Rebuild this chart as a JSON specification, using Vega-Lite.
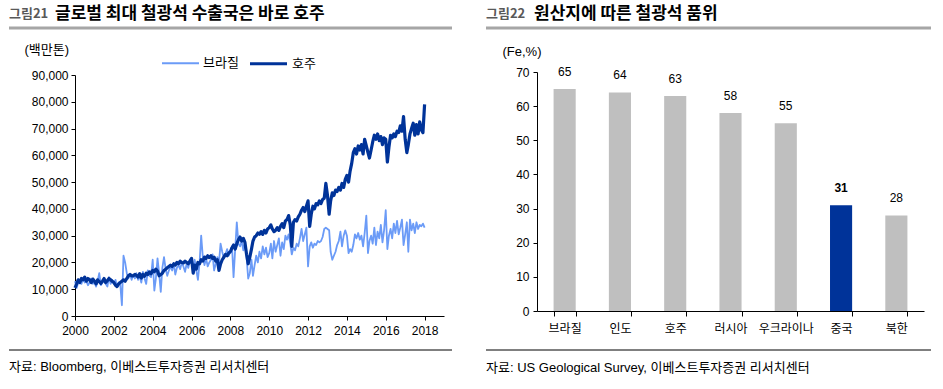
{
  "$schema": "https://vega.github.io/schema/vega-lite/v6.json",
  "padding": {"left": 7, "top": 5, "right": 0, "bottom": 0},
  "background": "white",
  "spacing": 30,
  "resolve": {"scale": {"color": "independent", "strokeWidth": "independent", "x": "independent", "y": "independent"}, "legend": {"color": "independent", "strokeWidth": "independent"}},
  "config": {
    "font": "Liberation Sans, Noto Sans CJK KR",
    "view": {"stroke": null},
    "axis": {"labelFont": "Liberation Sans, Noto Sans CJK KR", "labelColor": "#000", "labelFontSize": 12, "domainColor": "#000", "tickColor": "#000", "grid": false, "titleFont": "Liberation Sans, Noto Sans CJK KR", "titleColor": "#000", "titleFontWeight": "normal", "titleFontSize": 13},
    "text": {"font": "Liberation Sans, Noto Sans CJK KR"}
  },
  "datasets": {
    "lines": [
      {"m":"2000-01","브라질":13000,"호주":10500},{"m":"2000-02","브라질":10500,"호주":12000},{"m":"2000-03","브라질":12500,"호주":13500},{"m":"2000-04","브라질":13500,"호주":12500},{"m":"2000-05","브라질":12000,"호주":14000},{"m":"2000-06","브라질":14000,"호주":13500},{"m":"2000-07","브라질":12500,"호주":14500},{"m":"2000-08","브라질":13000,"호주":13000},{"m":"2000-09","브라질":11500,"호주":14000},{"m":"2000-10","브라질":12500,"호주":13500},{"m":"2000-11","브라질":14000,"호주":12500},{"m":"2000-12","브라질":12000,"호주":13800},
      {"m":"2001-01","브라질":12500,"호주":13000},{"m":"2001-02","브라질":11000,"호주":12000},{"m":"2001-03","브라질":13000,"호주":13500},{"m":"2001-04","브라질":16000,"호주":12800},{"m":"2001-05","브라질":11500,"호주":12200},{"m":"2001-06","브라질":12500,"호주":13000},{"m":"2001-07","브라질":13500,"호주":14000},{"m":"2001-08","브라질":12000,"호주":12500},{"m":"2001-09","브라질":11000,"호주":13200},{"m":"2001-10","브라질":14500,"호주":14000},{"m":"2001-11","브라질":12000,"호주":13500},{"m":"2001-12","브라질":13500,"호주":13000},
      {"m":"2002-01","브라질":12000,"호주":12500},{"m":"2002-02","브라질":13500,"호주":11500},{"m":"2002-03","브라질":11000,"호주":11000},{"m":"2002-04","브라질":12500,"호주":12000},{"m":"2002-05","브라질":12000,"호주":12500},{"m":"2002-06","브라질":4000,"호주":13000},{"m":"2002-07","브라질":22500,"호주":13500},{"m":"2002-08","브라질":20000,"호주":13000},{"m":"2002-09","브라질":16000,"호주":14000},{"m":"2002-10","브라질":14000,"호주":15000},{"m":"2002-11","브라질":15500,"호주":15500},{"m":"2002-12","브라질":13500,"호주":15000},
      {"m":"2003-01","브라질":15500,"호주":15000},{"m":"2003-02","브라질":14000,"호주":15500},{"m":"2003-03","브라질":16000,"호주":15200},{"m":"2003-04","브라질":13500,"호주":14500},{"m":"2003-05","브라질":15000,"호주":15800},{"m":"2003-06","브라질":12500,"호주":14200},{"m":"2003-07","브라질":16500,"호주":15500},{"m":"2003-08","브라질":14000,"호주":14800},{"m":"2003-09","브라질":12000,"호주":16000},{"m":"2003-10","브라질":17000,"호주":15500},{"m":"2003-11","브라질":15000,"호주":16500},{"m":"2003-12","브라질":14500,"호주":15800},
      {"m":"2004-01","브라질":21000,"호주":17000},{"m":"2004-02","브라질":9500,"호주":16500},{"m":"2004-03","브라질":14000,"호주":17500},{"m":"2004-04","브라질":21500,"호주":16800},{"m":"2004-05","브라질":16000,"호주":15000},{"m":"2004-06","브라질":9000,"호주":15500},{"m":"2004-07","브라질":18000,"호주":16000},{"m":"2004-08","브라질":22000,"호주":17000},{"m":"2004-09","브라질":17500,"호주":17500},{"m":"2004-10","브라질":15000,"호주":18000},{"m":"2004-11","브라질":17000,"호주":18500},{"m":"2004-12","브라질":18500,"호주":19000},
      {"m":"2005-01","브라질":17000,"호주":18500},{"m":"2005-02","브라질":19500,"호주":19500},{"m":"2005-03","브라질":15500,"호주":19000},{"m":"2005-04","브라질":18000,"호주":20000},{"m":"2005-05","브라질":19000,"호주":19500},{"m":"2005-06","브라질":17500,"호주":20500},{"m":"2005-07","브라질":20000,"호주":20000},{"m":"2005-08","브라질":18500,"호주":19800},{"m":"2005-09","브라질":16500,"호주":20500},{"m":"2005-10","브라질":19500,"호주":20000},{"m":"2005-11","브라질":18000,"호주":19500},{"m":"2005-12","브라질":20500,"호주":20500},
      {"m":"2006-01","브라질":19500,"호주":21500},{"m":"2006-02","브라질":18000,"호주":16000},{"m":"2006-03","브라질":21000,"호주":19000},{"m":"2006-04","브라질":17000,"호주":17500},{"m":"2006-05","브라질":13500,"호주":20000},{"m":"2006-06","브라질":20000,"호주":19500},{"m":"2006-07","브라질":30000,"호주":21000},{"m":"2006-08","브라질":22000,"호주":20500},{"m":"2006-09","브라질":19000,"호주":22000},{"m":"2006-10","브라질":21500,"호주":21500},{"m":"2006-11","브라질":18500,"호주":22500},{"m":"2006-12","브라질":20000,"호주":21800},
      {"m":"2007-01","브라질":21000,"호주":22500},{"m":"2007-02","브라질":23000,"호주":21500},{"m":"2007-03","브라질":17000,"호주":22000},{"m":"2007-04","브라질":19500,"호주":20500},{"m":"2007-05","브라질":22000,"호주":21000},{"m":"2007-06","브라질":20000,"호주":17000},{"m":"2007-07","브라질":27000,"호주":19500},{"m":"2007-08","브라질":24000,"호주":21000},{"m":"2007-09","브라질":21500,"호주":22000},{"m":"2007-10","브라질":23000,"호주":23000},{"m":"2007-11","브라질":25000,"호주":22500},{"m":"2007-12","브라질":22500,"호주":23500},
      {"m":"2008-01","브라질":24000,"호주":24000},{"m":"2008-02","브라질":26000,"호주":25500},{"m":"2008-03","브라질":14500,"호주":26500},{"m":"2008-04","브라질":25000,"호주":25000},{"m":"2008-05","브라질":35000,"호주":27000},{"m":"2008-06","브라질":27000,"호주":28500},{"m":"2008-07","브라질":26000,"호주":29500},{"m":"2008-08","브라질":28000,"호주":28000},{"m":"2008-09","브라질":24500,"호주":29000},{"m":"2008-10","브라질":27500,"호주":27500},{"m":"2008-11","브라질":22000,"호주":23000},{"m":"2008-12","브라질":14000,"호주":19500},
      {"m":"2009-01","브라질":16000,"호주":22000},{"m":"2009-02","브라질":21000,"호주":25000},{"m":"2009-03","브라질":15000,"호주":28000},{"m":"2009-04","브라질":19000,"호주":29500},{"m":"2009-05","브라질":22500,"호주":30000},{"m":"2009-06","브라질":20000,"호주":31000},{"m":"2009-07","브라질":24000,"호주":30500},{"m":"2009-08","브라질":21500,"호주":31500},{"m":"2009-09","브라질":26000,"호주":30500},{"m":"2009-10","브라질":23000,"호주":32000},{"m":"2009-11","브라질":25500,"호주":31000},{"m":"2009-12","브라질":22000,"호주":32500},
      {"m":"2010-01","브라질":23500,"호주":33000},{"m":"2010-02","브라질":27000,"호주":34000},{"m":"2010-03","브라질":21500,"호주":32500},{"m":"2010-04","브라질":28000,"호주":31500},{"m":"2010-05","브라질":24000,"호주":32000},{"m":"2010-06","브라질":26500,"호주":33000},{"m":"2010-07","브라질":29000,"호주":32000},{"m":"2010-08","브라질":22500,"호주":33500},{"m":"2010-09","브라질":27500,"호주":34500},{"m":"2010-10","브라질":25000,"호주":33000},{"m":"2010-11","브라질":30000,"호주":35500},{"m":"2010-12","브라질":28500,"호주":36000},
      {"m":"2011-01","브라질":30500,"호주":37500},{"m":"2011-02","브라질":27000,"호주":34000},{"m":"2011-03","브라질":23000,"호주":26000},{"m":"2011-04","브라질":25500,"호주":35000},{"m":"2011-05","브라질":24500,"호주":36000},{"m":"2011-06","브라질":27000,"호주":35500},{"m":"2011-07","브라질":26000,"호주":37000},{"m":"2011-08","브라질":29000,"호주":38000},{"m":"2011-09","브라질":32500,"호주":39500},{"m":"2011-10","브라질":28000,"호주":40500},{"m":"2011-11","브라질":30500,"호주":39000},{"m":"2011-12","브라질":33000,"호주":41000},
      {"m":"2012-01","브라질":18500,"호주":43000},{"m":"2012-02","브라질":26000,"호주":33500},{"m":"2012-03","브라질":27500,"호주":38000},{"m":"2012-04","브라질":25500,"호주":41000},{"m":"2012-05","브라질":27000,"호주":40000},{"m":"2012-06","브라질":26500,"호주":42000},{"m":"2012-07","브라질":28000,"호주":41500},{"m":"2012-08","브라질":27500,"호주":43000},{"m":"2012-09","브라질":28000,"호주":42000},{"m":"2012-10","브라질":29500,"호주":43500},{"m":"2012-11","브라질":32500,"호주":44000},{"m":"2012-12","브라질":33000,"호주":49500},
      {"m":"2013-01","브라질":32500,"호주":45000},{"m":"2013-02","브라질":32000,"호주":38000},{"m":"2013-03","브라질":24000,"호주":43000},{"m":"2013-04","브라질":21000,"호주":46000},{"m":"2013-05","브라질":22500,"호주":45000},{"m":"2013-06","브라질":24000,"호주":47000},{"m":"2013-07","브라질":26500,"호주":46500},{"m":"2013-08","브라질":28000,"호주":48000},{"m":"2013-09","브라질":31500,"호주":47000},{"m":"2013-10","브라질":26000,"호주":49500},{"m":"2013-11","브라질":30000,"호주":48000},{"m":"2013-12","브라질":32000,"호주":51000},
      {"m":"2014-01","브라질":30000,"호주":52500},{"m":"2014-02","브라질":23500,"호주":50000},{"m":"2014-03","브라질":25000,"호주":54000},{"m":"2014-04","브라질":24000,"호주":57000},{"m":"2014-05","브라질":26500,"호주":61000},{"m":"2014-06","브라질":30500,"호주":62500},{"m":"2014-07","브라질":29000,"호주":60500},{"m":"2014-08","브라질":31000,"호주":63500},{"m":"2014-09","브라질":28500,"호주":62000},{"m":"2014-10","브라질":30000,"호주":64000},{"m":"2014-11","브라질":26000,"호주":60500},{"m":"2014-12","브라질":31000,"호주":66000},
      {"m":"2015-01","브라질":37500,"호주":63500},{"m":"2015-02","브라질":23500,"호주":61000},{"m":"2015-03","브라질":28000,"호주":59000},{"m":"2015-04","브라질":30000,"호주":62000},{"m":"2015-05","브라질":27000,"호주":65000},{"m":"2015-06","브라질":33000,"호주":67500},{"m":"2015-07","브라질":26500,"호주":66000},{"m":"2015-08","브라질":31500,"호주":68000},{"m":"2015-09","브라질":29000,"호주":65500},{"m":"2015-10","브라질":34000,"호주":67000},{"m":"2015-11","브라질":27500,"호주":64000},{"m":"2015-12","브라질":32000,"호주":66500},
      {"m":"2016-01","브라질":39500,"호주":66000},{"m":"2016-02","브라질":25000,"호주":57500},{"m":"2016-03","브라질":30000,"호주":63000},{"m":"2016-04","브라질":32500,"호주":67500},{"m":"2016-05","브라질":29000,"호주":66500},{"m":"2016-06","브라질":34500,"호주":68000},{"m":"2016-07","브라질":31000,"호주":67000},{"m":"2016-08","브라질":35500,"호주":69000},{"m":"2016-09","브라질":30500,"호주":68500},{"m":"2016-10","브라질":33000,"호주":71000},{"m":"2016-11","브라질":36000,"호주":69000},{"m":"2016-12","브라질":26500,"호주":74500},
      {"m":"2017-01","브라질":30500,"호주":66000},{"m":"2017-02","브라질":35000,"호주":61000},{"m":"2017-03","브라질":24000,"호주":64000},{"m":"2017-04","브라질":36000,"호주":68000},{"m":"2017-05","브라질":32000,"호주":70000},{"m":"2017-06","브라질":34500,"호주":72000},{"m":"2017-07","브라질":31000,"호주":67500},{"m":"2017-08","브라질":35000,"호주":71500},{"m":"2017-09","브라질":32500,"호주":68000},{"m":"2017-10","브라질":34000,"호주":72500},{"m":"2017-11","브라질":33500,"호주":69500},{"m":"2017-12","브라질":34500,"호주":68500},
      {"m":"2018-01","브라질":33000,"호주":79000}
    ],
    "grade": [
      {"c":"브라질","v":65},{"c":"인도","v":64},{"c":"호주","v":63},{"c":"러시아","v":58},{"c":"우크라이나","v":55},{"c":"중국","v":31},{"c":"북한","v":28}
    ]
  },
  "hconcat": [
    {
      "spacing": 13,
      "resolve": {"legend": {"color": "independent", "strokeWidth": "independent"}},
      "vconcat": [
        {
          "width": 369, "height": 24,
          "data": {"values": [{"fig": "그림21", "title": "글로벌 최대 철광석 수출국은 바로 호주"}]},
          "layer": [
            {"mark": {"type": "rule", "color": "#a6a6a6", "strokeWidth": 3},
             "encoding": {"x": {"datum": 0, "type": "quantitative", "scale": {"domain": [0, 1], "range": [-66, 377]}, "axis": null}, "x2": {"datum": 1}, "y": {"datum": 0.04, "type": "quantitative", "scale": {"domain": [0, 1]}, "axis": null}}},
            {"mark": {"type": "text", "align": "left", "baseline": "middle", "fontSize": 13, "fontWeight": "bold", "color": "#595959", "font": "Noto Sans CJK KR"},
             "encoding": {"text": {"field": "fig"}, "x": {"datum": 0, "type": "quantitative"}, "y": {"datum": 0.62, "type": "quantitative"}}},
            {"mark": {"type": "text", "align": "left", "baseline": "middle", "fontSize": 17, "fontWeight": "bold", "color": "#000", "dx": 46, "font": "Noto Sans CJK KR"},
             "encoding": {"text": {"field": "title"}, "x": {"datum": 0, "type": "quantitative"}, "y": {"datum": 0.62, "type": "quantitative"}}}
          ]
        },
        {
          "width": 369, "height": 241,
          "data": {"name": "lines"},
          "transform": [{"fold": ["브라질", "호주"], "as": ["s", "v"]}],
          "mark": {"type": "line", "strokeJoin": "round"},
          "encoding": {
            "x": {"field": "m", "type": "temporal",
                  "scale": {"type": "utc", "domain": [{"year": 2000, "utc": true}, {"year": 2019, "utc": true}]},
                  "axis": {"format": "%Y", "tickCount": {"interval": "year", "step": 2}, "title": null, "labelFlush": false, "tickSize": 4, "labelPadding": 5}},
            "y": {"field": "v", "type": "quantitative",
                  "scale": {"domain": [0, 90000], "nice": false},
                  "axis": {"values": [0, 10000, 20000, 30000, 40000, 50000, 60000, 70000, 80000, 90000], "format": ",.0f", "tickSize": 4, "labelPadding": 3,
                           "title": "(백만톤)", "titleAngle": 0, "titleAlign": "left", "titleBaseline": "middle", "titleX": -51, "titleY": -26}},
            "color": {"field": "s", "type": "nominal", "scale": {"domain": ["브라질", "호주"], "range": ["#6b9bf7", "#003399"]},
                      "legend": {"orient": "none", "legendX": 86, "legendY": -32, "direction": "horizontal", "title": null, "symbolType": "stroke", "symbolSize": 1369, "labelFontSize": 13, "labelOffset": 3, "columnPadding": 4, "labelColor": "#000", "labelFont": "Noto Sans CJK KR"}},
            "strokeWidth": {"field": "s", "type": "nominal", "scale": {"domain": ["브라질", "호주"], "range": [1.8, 3.2]}}
          }
        },
        {
          "width": 369, "height": 24,
          "data": {"values": [{"src": "자료: Bloomberg, 이베스트투자증권 리서치센터"}]},
          "layer": [
            {"mark": {"type": "rule", "color": "#000", "strokeWidth": 1},
             "encoding": {"x": {"datum": 0, "type": "quantitative", "scale": {"domain": [0, 1], "range": [-66, 377]}, "axis": null}, "x2": {"datum": 1}, "y": {"datum": 1, "type": "quantitative", "scale": {"domain": [0, 1]}, "axis": null}}},
            {"mark": {"type": "text", "align": "left", "baseline": "middle", "fontSize": 13, "color": "#000"},
             "encoding": {"text": {"field": "src"}, "x": {"datum": 0, "type": "quantitative"}, "y": {"datum": 0.29, "type": "quantitative"}}}
          ]
        }
      ]
    },
    {
      "spacing": 15,
      "vconcat": [
        {
          "width": 387, "height": 24,
          "data": {"values": [{"fig": "그림22", "title": "원산지에 따른 철광석 품위"}]},
          "layer": [
            {"mark": {"type": "rule", "color": "#a6a6a6", "strokeWidth": 3},
             "encoding": {"x": {"datum": 0, "type": "quantitative", "scale": {"domain": [0, 1], "range": [-51, 394]}, "axis": null}, "x2": {"datum": 1}, "y": {"datum": 0.04, "type": "quantitative", "scale": {"domain": [0, 1]}, "axis": null}}},
            {"mark": {"type": "text", "align": "left", "baseline": "middle", "fontSize": 13, "fontWeight": "bold", "color": "#595959", "font": "Noto Sans CJK KR"},
             "encoding": {"text": {"field": "fig"}, "x": {"datum": 0, "type": "quantitative"}, "y": {"datum": 0.62, "type": "quantitative"}}},
            {"mark": {"type": "text", "align": "left", "baseline": "middle", "fontSize": 17, "fontWeight": "bold", "color": "#000", "dx": 48, "font": "Noto Sans CJK KR"},
             "encoding": {"text": {"field": "title"}, "x": {"datum": 0, "type": "quantitative"}, "y": {"datum": 0.62, "type": "quantitative"}}}
          ]
        },
        {
          "width": 387, "height": 239,
          "data": {"name": "grade"},
          "encoding": {
            "x": {"field": "c", "type": "nominal", "sort": null,
                  "scale": {"paddingInner": 0.6, "paddingOuter": 0.3},
                  "axis": {"title": null, "labelAngle": 0, "tickBand": "extent", "tickSize": 5, "labelPadding": 7, "labelFont": "Noto Sans CJK KR", "labelFontSize": 12}},
            "y": {"field": "v", "type": "quantitative",
                  "scale": {"domain": [0, 70], "nice": false},
                  "axis": {"values": [0, 10, 20, 30, 40, 50, 60, 70], "tickSize": 4, "labelPadding": 4,
                           "title": "(Fe,%)", "titleAngle": 0, "titleAlign": "left", "titleBaseline": "middle", "titleX": -35, "titleY": -21}}
          },
          "layer": [
            {"mark": {"type": "bar"},
             "encoding": {"color": {"field": "c", "type": "nominal", "legend": null,
                                    "scale": {"domain": ["브라질", "인도", "호주", "러시아", "우크라이나", "중국", "북한"], "range": ["#bfbfbf", "#bfbfbf", "#bfbfbf", "#bfbfbf", "#bfbfbf", "#003399", "#bfbfbf"]}}}},
            {"transform": [{"filter": "datum.c !== '중국'"}],
             "mark": {"type": "text", "baseline": "bottom", "dy": -10, "fontSize": 12, "color": "#000"},
             "encoding": {"text": {"field": "v", "type": "quantitative"}}},
            {"transform": [{"filter": "datum.c === '중국'"}],
             "mark": {"type": "text", "baseline": "bottom", "dy": -10, "fontSize": 12, "fontWeight": "bold", "color": "#000"},
             "encoding": {"text": {"field": "v", "type": "quantitative"}}}
          ]
        },
        {
          "width": 387, "height": 24,
          "data": {"values": [{"src": "자료: US Geological Survey, 이베스트투자증권 리서치센터"}]},
          "layer": [
            {"mark": {"type": "rule", "color": "#000", "strokeWidth": 1},
             "encoding": {"x": {"datum": 0, "type": "quantitative", "scale": {"domain": [0, 1], "range": [-51, 394]}, "axis": null}, "x2": {"datum": 1}, "y": {"datum": 1, "type": "quantitative", "scale": {"domain": [0, 1]}, "axis": null}}},
            {"mark": {"type": "text", "align": "left", "baseline": "middle", "fontSize": 13, "color": "#000"},
             "encoding": {"text": {"field": "src"}, "x": {"datum": 0, "type": "quantitative"}, "y": {"datum": 0.25, "type": "quantitative"}}}
          ]
        }
      ]
    }
  ]
}
